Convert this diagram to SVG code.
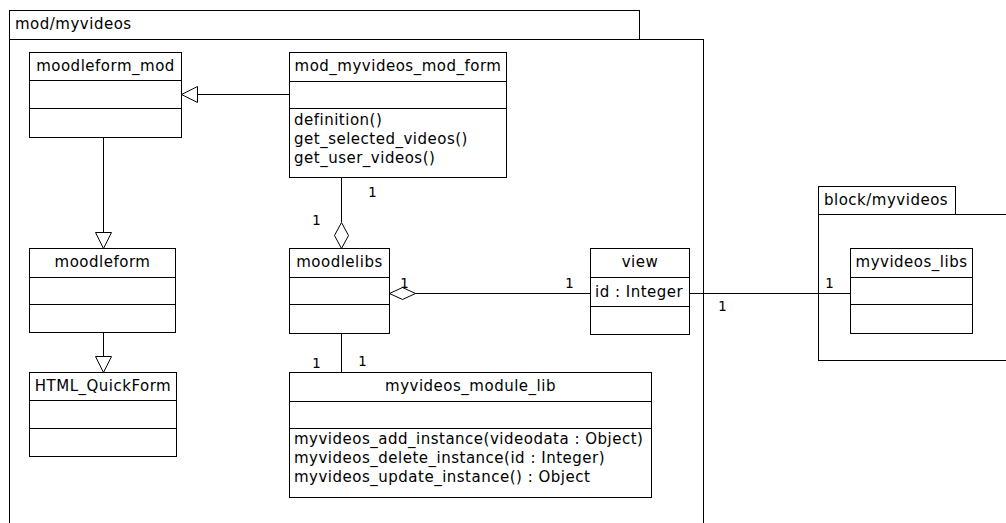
<svg xmlns="http://www.w3.org/2000/svg" width="1006" height="523" viewBox="0 0 1006 523">
<style>
.pk{fill:#fff;stroke:#000;stroke-width:1}
.bx{fill:#fff;stroke:#000;stroke-width:1}
.ln{fill:none;stroke:#000;stroke-width:1}
.t{font-family:"DejaVu Sans",sans-serif;font-size:15px;letter-spacing:0.5px;fill:#000}
.c{text-anchor:middle}
.m{font-family:"DejaVu Sans Mono",monospace;font-size:14px;fill:#000}
.tri{fill:#fff;stroke:#000;stroke-width:1}
</style>
<rect width="1006" height="523" fill="#fff"/>
<g id="pkg-mod">
<rect class="pk" x="9.5" y="10.5" width="630" height="29"/>
<rect class="pk" x="9.5" y="39.5" width="694" height="500"/>
<text class="t" x="15" y="29">mod/myvideos</text>
</g>
<g id="pkg-block">
<rect class="pk" x="818.5" y="186.5" width="137" height="28"/>
<rect class="pk" x="818.5" y="214.5" width="200" height="146"/>
<text class="t" x="824" y="205">block/myvideos</text>
</g>
<g id="connectors">
<path class="ln" d="M289.5 94.5H197"/>
<polygon class="tri" points="181.5,94.5 197.5,86.5 197.5,102.5"/>
<path class="ln" d="M103.5 137.5V232"/>
<polygon class="tri" points="103.5,248.5 95.5,232.5 111.5,232.5"/>
<path class="ln" d="M103.5 332.5V357"/>
<polygon class="tri" points="103.5,372.5 95.5,356.5 111.5,356.5"/>
<path class="ln" d="M341.5 177.5V222"/>
<polygon class="tri" points="341.5,248.5 334.5,235.5 341.5,222.5 348.5,235.5"/>
<path class="ln" d="M415 293.5H590.5"/>
<polygon class="tri" points="389.5,293.5 402.5,287.5 415.5,293.5 402.5,299.5"/>
<path class="ln" d="M341.5 333.5V372.5"/>
<path class="ln" d="M689.5 293.5H850.5"/>
<text class="m" x="368" y="197">1</text>
<text class="m" x="312" y="225">1</text>
<text class="m" x="400" y="288">1</text>
<text class="m" x="565" y="288">1</text>
<text class="m" x="312" y="368">1</text>
<text class="m" x="358" y="366">1</text>
<text class="m" x="718" y="311" fill="#555">1</text>
<text class="m" x="825" y="288">1</text>
</g>
<g id="moodleform_mod">
<rect class="bx" x="29.5" y="52.5" width="152" height="85"/>
<path class="ln" d="M29.5 80.5H181.5M29.5 108.5H181.5"/>
<text class="t c" x="105.5" y="71">moodleform_mod</text>
</g>
<g id="mod_myvideos_mod_form">
<rect class="bx" x="289.5" y="52.5" width="217" height="125"/>
<path class="ln" d="M289.5 81.5H506.5M289.5 108.5H506.5"/>
<text class="t c" x="398" y="71">mod_myvideos_mod_form</text>
<text class="t" x="294" y="125">definition()</text>
<text class="t" x="294" y="144">get_selected_videos()</text>
<text class="t" x="294" y="163">get_user_videos()</text>
</g>
<g id="moodleform">
<rect class="bx" x="29.5" y="248.5" width="146" height="84"/>
<path class="ln" d="M29.5 277.5H175.5M29.5 304.5H175.5"/>
<text class="t c" x="102.5" y="267">moodleform</text>
</g>
<g id="HTML_QuickForm">
<rect class="bx" x="29.5" y="372.5" width="147" height="84"/>
<path class="ln" d="M29.5 400.5H176.5M29.5 428.5H176.5"/>
<text class="t c" x="103" y="391">HTML_QuickForm</text>
</g>
<g id="moodlelibs">
<rect class="bx" x="289.5" y="248.5" width="100" height="85"/>
<path class="ln" d="M289.5 277.5H389.5M289.5 304.5H389.5"/>
<text class="t c" x="339.5" y="267">moodlelibs</text>
</g>
<g id="view">
<rect class="bx" x="590.5" y="248.5" width="99" height="86"/>
<path class="ln" d="M590.5 277.5H689.5M590.5 306.5H689.5"/>
<text class="t c" x="640" y="267">view</text>
<text class="t" x="595" y="297">id : Integer</text>
</g>
<g id="myvideos_module_lib">
<rect class="bx" x="289.5" y="372.5" width="362" height="125"/>
<path class="ln" d="M289.5 401.5H651.5M289.5 428.5H651.5"/>
<text class="t c" x="470.5" y="391">myvideos_module_lib</text>
<text class="t" x="294" y="444">myvideos_add_instance(videodata : Object)</text>
<text class="t" x="294" y="463">myvideos_delete_instance(id : Integer)</text>
<text class="t" x="294" y="482">myvideos_update_instance() : Object</text>
</g>
<g id="myvideos_libs">
<rect class="bx" x="850.5" y="248.5" width="122" height="85"/>
<path class="ln" d="M850.5 277.5H972.5M850.5 304.5H972.5"/>
<text class="t c" x="911.5" y="267">myvideos_libs</text>
</g>
</svg>
